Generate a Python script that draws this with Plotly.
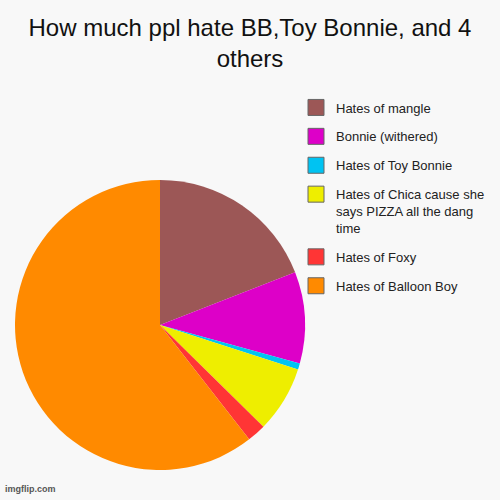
import plotly.graph_objects as go

labels = ["Hates of mangle", "Bonnie (withered)", "Hates of Toy Bonnie",
          "Hates of Chica cause she says PIZZA all the dang time",
          "Hates of Foxy", "Hates of Balloon Boy"]
legend_labels = ["Hates of mangle", "Bonnie (withered)", "Hates of Toy Bonnie",
                 "Hates of Chica cause she<br>says PIZZA all the dang<br>time",
                 "Hates of Foxy", "Hates of Balloon Boy"]
values = [19.1, 10.2, 0.7, 7.4, 2.1, 60.6]
colors = ["#9C5756", "#DD00C8", "#00C3F2", "#EEEE00", "#FF3535", "#FF8A00"]

fig = go.Figure()
fig.add_trace(go.Pie(
    labels=labels, values=values, sort=False, direction="clockwise", rotation=0,
    marker=dict(colors=colors, line=dict(width=0)), textinfo="none",
    showlegend=False, domain=dict(x=[0.03, 0.61], y=[0.06, 0.64]),
    hoverinfo="label+percent"))

for lab, c in zip(legend_labels, colors):
    fig.add_trace(go.Scatter(
        x=[None], y=[None], mode="markers", name=lab, legendgroup=lab,
        marker=dict(symbol="square", size=16, color=c,
                    line=dict(color="#666666", width=1))))

fig.update_layout(
    width=500, height=500,
    margin=dict(l=0, r=0, t=0, b=0),
    paper_bgcolor="#F8F8F8", plot_bgcolor="#F8F8F8",
    font=dict(family="Liberation Sans, Arial, sans-serif", color="#222222"),
    title=dict(text="How much ppl hate BB,Toy Bonnie, and 4<br>others",
               x=0.5, xanchor="center", y=0.929, yanchor="top", yref="container",
               font=dict(size=24, color="#111111")),
    xaxis=dict(visible=False), yaxis=dict(visible=False),
    legend=dict(x=0.592, y=0.815, xanchor="left", yanchor="top", valign="top",
                tracegroupgap=9, itemwidth=30, bgcolor="rgba(0,0,0,0)",
                font=dict(size=13, color="#222222")),
    annotations=[dict(text="<b>imgflip.com</b>", x=0.005, y=0.008, xref="paper",
                      yref="paper", xanchor="left", yanchor="bottom",
                      showarrow=False, font=dict(size=9, color="#555555"))],
)

fig.write_html("out.html", config={"displayModeBar": False},
               post_script="document.body.style.margin='0';document.body.style.background='#F8F8F8';")
